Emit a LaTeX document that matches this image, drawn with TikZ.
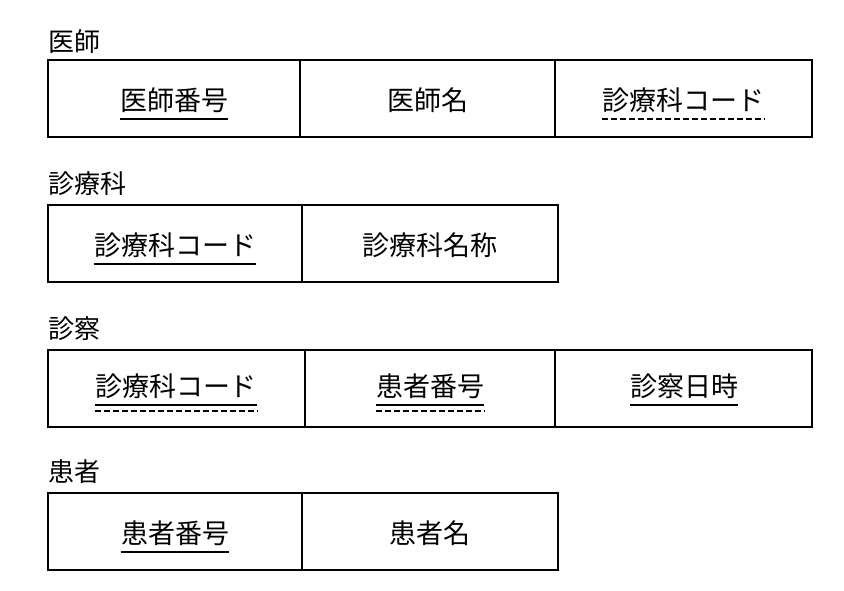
\documentclass[tikz,border=0pt]{standalone}
\usepackage{fontspec}
\newfontfamily\jp{Noto Sans CJK JP}
\begin{document}
\begin{tikzpicture}[x=1pt,y=-1pt,
  cell/.style={draw,line width=2pt},
  div/.style={line width=1.6pt},
  txt/.style={font=\jp\fontsize{27}{27}\selectfont,inner sep=0pt,anchor=center},
  lbl/.style={font=\jp\fontsize{26}{26}\selectfont,inner sep=0pt,anchor=west},
  pk/.style={line width=2.2pt},
  fk/.style={line width=2pt,dash pattern=on 6pt off 3pt}]
\useasboundingbox (0,0) rectangle (844,590);
% 医師
\node[lbl] (l1) at (48,42) {医師};
\draw[cell] (48,60) rectangle (812,137);
\draw[div] (300,60) -- (300,137) (555,60) -- (555,137);
\node[txt] (a1) at (174,100) {医師番号};
\node[txt] (a2) at (428,100) {医師名};
\node[txt] (a3) at (683,100) {診療科コード};
\draw[pk] ([yshift=-6pt]a1.south west) -- ([yshift=-6pt]a1.south east);
\draw[fk] ([yshift=-6pt]a3.south west) -- ([yshift=-6pt]a3.south east);
% 診療科
\node[lbl] (l2) at (48,184) {診療科};
\draw[cell] (48,205) rectangle (558,282);
\draw[div] (302,205) -- (302,282);
\node[txt] (b1) at (175,245) {診療科コード};
\node[txt] (b2) at (430,245) {診療科名称};
\draw[pk] ([yshift=-6pt]b1.south west) -- ([yshift=-6pt]b1.south east);
% 診察
\node[lbl] (l3) at (48,329) {診察};
\draw[cell] (48,350) rectangle (812,427);
\draw[div] (305,350) -- (305,427) (555,350) -- (555,427);
\node[txt] (c1) at (176,386) {診療科コード};
\node[txt] (c2) at (430,386) {患者番号};
\node[txt] (c3) at (684,386) {診察日時};
\draw[pk] ([yshift=-6pt]c1.south west) -- ([yshift=-6pt]c1.south east);
\draw[fk] ([yshift=-12pt]c1.south west) -- ([yshift=-12pt]c1.south east);
\draw[pk] ([yshift=-6pt]c2.south west) -- ([yshift=-6pt]c2.south east);
\draw[fk] ([yshift=-12pt]c2.south west) -- ([yshift=-12pt]c2.south east);
\draw[pk] ([yshift=-6pt]c3.south west) -- ([yshift=-6pt]c3.south east);
% 患者
\node[lbl] (l4) at (48,472) {患者};
\draw[cell] (48,493) rectangle (558,570);
\draw[div] (302,493) -- (302,570);
\node[txt] (d1) at (175,533) {患者番号};
\node[txt] (d2) at (430,533) {患者名};
\draw[pk] ([yshift=-6pt]d1.south west) -- ([yshift=-6pt]d1.south east);
\end{tikzpicture}
\end{document}
